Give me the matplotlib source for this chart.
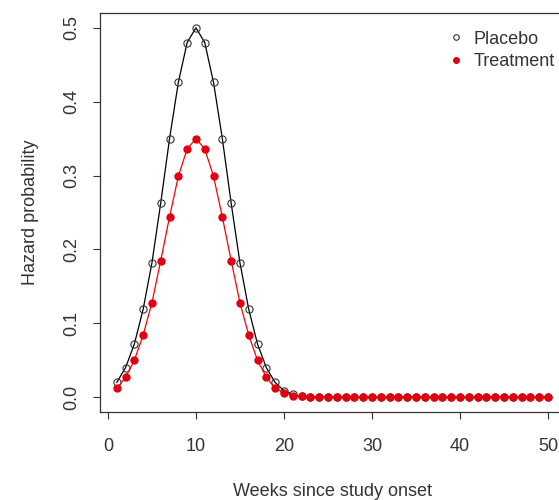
import numpy as np
import matplotlib.pyplot as plt

plt.rcParams['font.family'] = ['Liberation Sans', 'DejaVu Sans']

weeks = np.arange(1, 51)

# hazard per week, placebo arm
placebo = [0.020, 0.040, 0.072, 0.119, 0.182, 0.263, 0.350, 0.426, 0.480, 0.500,
           0.480, 0.426, 0.350, 0.263, 0.182, 0.119, 0.072, 0.040, 0.020, 0.009,
           0.004, 0.001] + [0.0] * 28

# hazard per week, treatment arm
treatment = [0.012, 0.027, 0.050, 0.084, 0.128, 0.185, 0.244, 0.299, 0.336, 0.350,
             0.336, 0.299, 0.244, 0.185, 0.128, 0.084, 0.050, 0.027, 0.012, 0.006,
             0.002, 0.001] + [0.0] * 28

fig = plt.figure(figsize=(5.59, 5.0), dpi=100)
ax = fig.add_axes([0.178, 0.176, 0.833, 0.798])

ax.plot(weeks, placebo, color='black', lw=0.9, marker='o', ms=5.2,
        mfc='none', mec='#333333', mew=0.8, label='Placebo')
ax.plot(weeks, treatment, color='red', lw=0.9, marker='o', ms=5.0,
        mfc='#e00010', mec='#e00010', label='Treatment')

ax.set_xlim(-0.96, 51.96)
ax.set_ylim(-0.02, 0.52)
ax.set_xticks([0, 10, 20, 30, 40, 50])
ax.set_yticks([0.0, 0.1, 0.2, 0.3, 0.4, 0.5])
ax.set_yticklabels(['0.0', '0.1', '0.2', '0.3', '0.4', '0.5'], rotation=90, va='center')

for s in ax.spines.values():
    s.set_color('#333333')
    s.set_linewidth(0.9)
ax.tick_params(direction='out', length=5, width=0.8, color='#333333',
               labelcolor='#333333', labelsize=13)
ax.tick_params(axis='x', pad=14)
ax.tick_params(axis='y', pad=9)

ax.set_xlabel('Weeks since study onset', fontsize=13, color='#333333', labelpad=20)
ax.set_ylabel('Hazard probability', fontsize=13, color='#333333', labelpad=17)

leg = ax.legend(loc='upper left', bbox_to_anchor=(0.791, 0.957), bbox_transform=fig.transFigure,
                frameon=False, handlelength=0.5, handletextpad=0.75, labelspacing=0.3,
                fontsize=13, borderpad=0)
for h in leg.legend_handles:
    h.set_linestyle('none')
    h.set_markersize(4)
for t in leg.get_texts():
    t.set_color('#333333')

fig.savefig('out.png', dpi=100)
